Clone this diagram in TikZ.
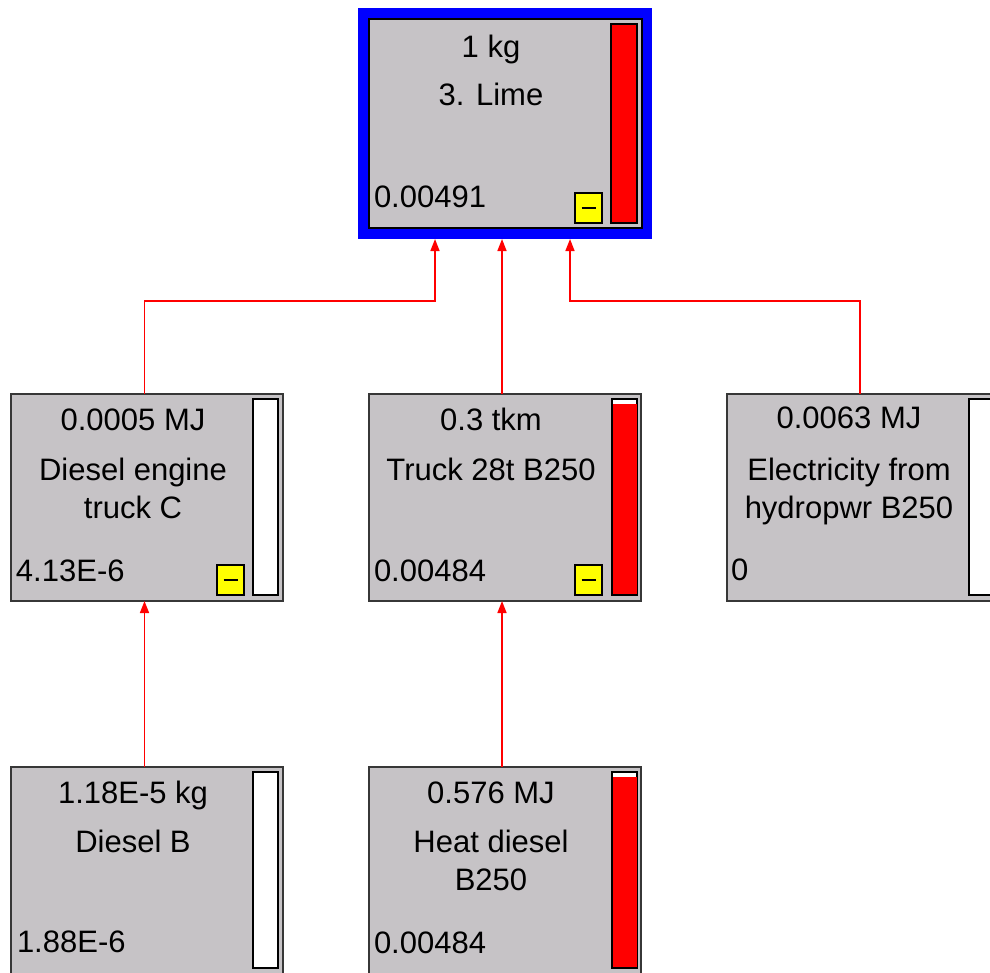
\documentclass[tikz,border=0pt]{standalone}
\usepackage{fontspec}
\setmainfont{Liberation Sans}
\usetikzlibrary{arrows.meta,calc}
\definecolor{boxgray}{RGB}{198,195,198}
\definecolor{edgegray}{RGB}{55,55,55}
\definecolor{barred}{RGB}{255,0,0}
\definecolor{yel}{RGB}{255,255,0}
\definecolor{procblue}{RGB}{0,0,255}
\begin{document}
\begin{tikzpicture}[x=1pt,y=-1pt,
  box/.style={draw=edgegray,line width=1.5pt,fill=boxgray,minimum width=272pt,minimum height=207pt,inner sep=0pt,outer sep=0pt,anchor=north west},
  barbox/.style={draw=black,line width=1.5pt,fill=white,minimum width=25pt,minimum height=196pt,inner sep=0pt,outer sep=0pt,anchor=north west},
  redfill/.style={fill=barred,draw=none,minimum width=24pt,inner sep=0pt,outer sep=0pt,anchor=south west},
  minusbox/.style={draw=black,line width=1.2pt,fill=yel,minimum width=27pt,minimum height=30pt,inner sep=0pt,outer sep=0pt,anchor=north west},
  txt/.style={inner sep=0pt,outer sep=0pt,anchor=base,font=\fontsize{31}{37}\selectfont},
  valtxt/.style={inner sep=0pt,outer sep=0pt,anchor=base west,font=\fontsize{31}{37}\selectfont},
  conn/.style={draw=barred,line width=1.6pt,-{Triangle[length=12pt,width=9pt]}}
]
\useasboundingbox (0,0) rectangle (990,972);
\clip (0,0) rectangle (990,972);
\fill[white] (0,0) rectangle (990,972);

% top process: 3. Lime
\node[fill=procblue,draw=none,minimum width=294pt,minimum height=231pt,inner sep=0pt,outer sep=0pt,anchor=north west] (limeout) at (358,8) {};
\node[box,draw=black,minimum width=273pt,minimum height=209pt] (lime) at (369,19) {};
\node[barbox,minimum width=26pt,minimum height=199pt,fill=barred] (limebar) at (611,24) {};
\node[minusbox] (limeminus) at (575,193) {\rule{14pt}{2.4pt}};
\node[txt] (lime1) at (491,57) {1 kg};
\node[txt] (lime2) at (491,105) {3. Lime};
\node[valtxt] (limeval) at (374,207) {0.00491};

% middle row
\node[box] (dec) at (11,394) {};
\node[barbox] (decbar) at (253,399) {};
\node[minusbox] (decminus) at (217,565) {\rule{14pt}{2.4pt}};
\node[txt] (dec1) at (133,430) {0.0005 MJ};
\node[txt] (dec2) at (133,480) {Diesel engine};
\node[txt] (dec3) at (133,518) {truck C};
\node[valtxt] (decval) at (16,581) {4.13E-6};

\node[box] (truck) at (369,394) {};
\node[barbox] (truckbar) at (612,399) {};
\node[redfill,minimum height=190pt] (truckred) at (612.75,594.25) {};
\node[minusbox] (truckminus) at (575,565) {\rule{14pt}{2.4pt}};
\node[txt] (truck1) at (491,430) {0.3 tkm};
\node[txt] (truck2) at (491,480) {Truck 28t B250};
\node[valtxt] (truckval) at (374,581) {0.00484};

\node[box] (elec) at (727,394) {};
\node[barbox] (elecbar) at (969,399) {};
\node[txt] (elec1) at (849,428) {0.0063 MJ};
\node[txt] (elec2) at (849,480) {Electricity from};
\node[txt] (elec3) at (849,518) {hydropwr B250};
\node[valtxt] (elecval) at (731,580) {0};

% bottom row
\node[box] (dsl) at (11,767) {};
\node[barbox] (dslbar) at (253,772) {};
\node[txt] (dsl1) at (133,803) {1.18E-5 kg};
\node[txt] (dsl2) at (133,852) {Diesel B};
\node[valtxt] (dslval) at (17,952) {1.88E-6};

\node[box] (heat) at (369,767) {};
\node[barbox] (heatbar) at (612,772) {};
\node[redfill,minimum height=190pt] (heatred) at (612.75,967.25) {};
\node[txt] (heat1) at (491,803) {0.576 MJ};
\node[txt] (heat2) at (491,852) {Heat diesel};
\node[txt] (heat3) at (491,890) {B250};
\node[valtxt] (heatval) at (374,953) {0.00484};

% connectors
\draw[conn] ([xshift=-2.5pt]dec.north) -- ++(0,-93) -| ([xshift=-70pt]limeout.south);
\draw[conn] ([xshift=-3pt]truck.north) -- ([xshift=-3pt]limeout.south);
\draw[conn] ([xshift=-3pt]elec.north) -- ++(0,-93) -| ([xshift=65pt]limeout.south);
\draw[conn] ([xshift=-2.5pt]dsl.north) -- ([xshift=-2.5pt]dec.south);
\draw[conn] ([xshift=-3pt]heat.north) -- ([xshift=-3pt]truck.south);
\end{tikzpicture}
\end{document}
